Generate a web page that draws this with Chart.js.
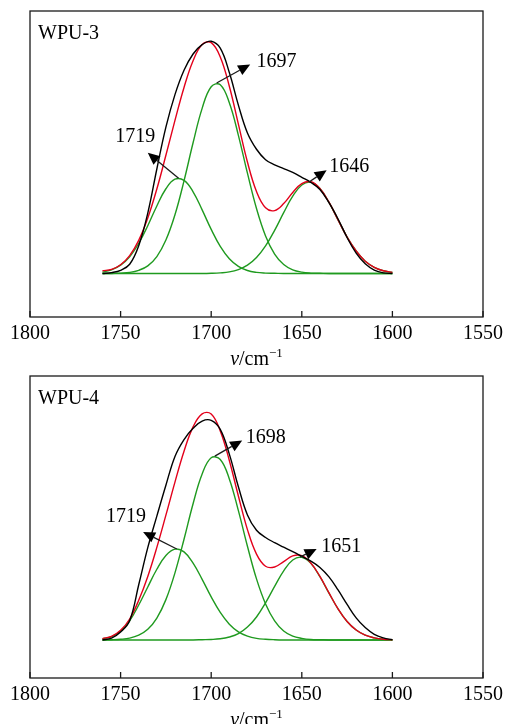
<!DOCTYPE html>
<html>
<head>
<meta charset="utf-8">
<script src="https://cdn.jsdelivr.net/npm/chart.js@4.4.1/dist/chart.umd.min.js"></script>
<style>
  html, body { margin: 0; padding: 0; background: #fff; }
  #wrap { position: relative; width: 508px; height: 724px; overflow: hidden; }
  #wrap canvas { position: absolute; left: 0; }
  #c3 { top: 0; }
  #c4 { top: 362px; }
</style>
</head>
<body>
<div id="wrap">
  <canvas id="c3" width="508" height="372"></canvas>
  <canvas id="c4" width="508" height="362"></canvas>
</div>
<script>
// wavenumber sampling (cm-1), shared by both panels
const wavenumbers = [1760, 1755, 1750, 1745, 1740, 1735, 1730, 1725, 1720, 1715, 1710,
  1705, 1700, 1695, 1690, 1685, 1680, 1675, 1670, 1665, 1660, 1655, 1650, 1645, 1640,
  1635, 1630, 1625, 1620, 1615, 1610, 1605, 1600];
const xTicks = [1800, 1750, 1700, 1650, 1600, 1550];

// WPU-3
const wpu3Measured = [0, 0.004, 0.014, 0.04, 0.12, 0.26, 0.45, 0.63, 0.77, 0.875, 0.945,
  0.985, 1.0, 0.97, 0.865, 0.725, 0.605, 0.535, 0.49, 0.468, 0.452, 0.435, 0.414, 0.392, 0.362,
  0.305, 0.235, 0.155, 0.088, 0.042, 0.015, 0.003, 0];
const wpu3Fitted = [0.012, 0.018, 0.038, 0.077, 0.143, 0.239, 0.364, 0.509, 0.659, 0.801, 0.916,
  0.986, 0.994, 0.932, 0.806, 0.643, 0.480, 0.353, 0.283, 0.271, 0.301, 0.349, 0.387, 0.395, 0.366,
  0.307, 0.231, 0.157, 0.097, 0.053, 0.027, 0.012, 0.005];
const wpu3Peak1719 = [0.006, 0.016, 0.036, 0.072, 0.130, 0.206, 0.291, 0.365, 0.406, 0.401, 0.352,
  0.274, 0.190, 0.117, 0.064, 0.031, 0.013, 0.005, 0.002, 0.001, 0, 0, 0, 0, 0,
  0, 0, 0, 0, 0, 0, 0, 0];
const wpu3Peak1697 = [0, 0, 0.002, 0.005, 0.014, 0.033, 0.073, 0.144, 0.253, 0.399, 0.563,
  0.711, 0.804, 0.813, 0.735, 0.595, 0.432, 0.280, 0.162, 0.084, 0.039, 0.016, 0.006, 0.002, 0.001,
  0, 0, 0, 0, 0, 0, 0, 0];
const wpu3Peak1646 = [0, 0, 0, 0, 0, 0, 0, 0, 0, 0, 0,
  0, 0.001, 0.003, 0.007, 0.017, 0.036, 0.069, 0.119, 0.186, 0.262, 0.333, 0.381, 0.393, 0.366,
  0.306, 0.231, 0.157, 0.097, 0.053, 0.027, 0.012, 0.005];

// WPU-4
const wpu4Measured = [0, 0.008, 0.035, 0.085, 0.245, 0.41, 0.55, 0.687, 0.815, 0.89, 0.94,
  0.972, 0.975, 0.935, 0.825, 0.68, 0.555, 0.487, 0.455, 0.432, 0.412, 0.392, 0.371, 0.35, 0.322,
  0.28, 0.222, 0.158, 0.098, 0.055, 0.025, 0.009, 0.001];
const wpu4Fitted = [0.006, 0.016, 0.043, 0.093, 0.176, 0.282, 0.411, 0.554, 0.701, 0.838, 0.946,
  1.004, 1.003, 0.928, 0.797, 0.639, 0.490, 0.381, 0.327, 0.324, 0.348, 0.373, 0.374, 0.342, 0.282,
  0.209, 0.138, 0.082, 0.044, 0.021, 0.009, 0.003, 0.001];
const wpu4Peak1719 = [0.005, 0.015, 0.040, 0.085, 0.155, 0.235, 0.314, 0.375, 0.403, 0.391, 0.341,
  0.269, 0.191, 0.122, 0.070, 0.036, 0.017, 0.007, 0.003, 0.001, 0, 0, 0, 0, 0,
  0, 0, 0, 0, 0, 0, 0, 0];
const wpu4Peak1698 = [0, 0.001, 0.003, 0.008, 0.021, 0.047, 0.097, 0.179, 0.298, 0.447, 0.605,
  0.737, 0.809, 0.801, 0.715, 0.574, 0.416, 0.271, 0.160, 0.085, 0.040, 0.017, 0.007, 0.002, 0.001,
  0, 0, 0, 0, 0, 0, 0, 0];
const wpu4Peak1651 = [0, 0, 0, 0, 0, 0, 0, 0, 0, 0, 0,
  0.001, 0.002, 0.005, 0.013, 0.028, 0.057, 0.102, 0.165, 0.238, 0.307, 0.355, 0.367, 0.340, 0.281,
  0.208, 0.138, 0.082, 0.044, 0.021, 0.009, 0.003, 0.001];

// peak labels: arrow from peak top to tip, text at label (data units)
const wpu3Notes = [
  { text: '1719', from: [1718, 0.41], tip: [1735, 0.52], label: [1753, 0.59] },
  { text: '1697', from: [1697, 0.82], tip: [1678.5, 0.90], label: [1675, 0.91] },
  { text: '1646', from: [1646, 0.394], tip: [1636.3, 0.445], label: [1634.8, 0.458] }
];
const wpu4Notes = [
  { text: '1719', from: [1719, 0.404], tip: [1737.6, 0.479], label: [1758, 0.545] },
  { text: '1698', from: [1698, 0.816], tip: [1682.9, 0.886], label: [1681, 0.90] },
  { text: '1651', from: [1651, 0.368], tip: [1641.8, 0.404], label: [1639.2, 0.416] }
];

const SERIF = '"Liberation Serif", "Times New Roman", serif';
const BLACK = '#000000', RED = '#e3001b', GREEN = '#1f9a1f';

function pts(values) {
  return wavenumbers.map((w, i) => ({ x: w, y: values[i] }));
}

function drawArrow(ctx, x0, y0, x1, y1) {
  const ang = Math.atan2(y1 - y0, x1 - x0);
  const len = 12, half = 5.5;
  const bx = x1 - len * Math.cos(ang), by = y1 - len * Math.sin(ang);
  ctx.beginPath();
  ctx.moveTo(x0, y0);
  ctx.lineTo(bx, by);
  ctx.stroke();
  ctx.beginPath();
  ctx.moveTo(x1, y1);
  ctx.lineTo(bx + half * Math.sin(ang), by - half * Math.cos(ang));
  ctx.lineTo(bx - half * Math.sin(ang), by + half * Math.cos(ang));
  ctx.closePath();
  ctx.fill();
}

const panelDecor = {
  id: 'panelDecor',
  afterDatasetsDraw(chart, args, opts) {
    const { ctx, chartArea: a, scales: { x, y } } = chart;
    ctx.save();
    ctx.strokeStyle = '#1a1a1a';
    ctx.fillStyle = '#000';
    ctx.lineWidth = 1.3;
    ctx.strokeRect(a.left, a.top, a.right - a.left, a.bottom - a.top);

    // ticks point inward
    x.ticks.forEach(t => {
      const px = x.getPixelForValue(t.value);
      ctx.beginPath();
      ctx.moveTo(px, a.bottom);
      ctx.lineTo(px, a.bottom - 6);
      ctx.stroke();
    });

    // axis title: v/cm^-1
    const parts = [['ν', 'italic 20px ' + SERIF, 0], ['/cm', '20px ' + SERIF, 0], ['−1', '13px ' + SERIF, -8]];
    let w = 0;
    parts.forEach(p => { ctx.font = p[1]; w += ctx.measureText(p[0]).width; });
    let cx = (a.left + a.right) / 2 - w / 2;
    const base = a.bottom + 48;
    ctx.textBaseline = 'alphabetic';
    ctx.textAlign = 'left';
    parts.forEach(p => {
      ctx.font = p[1];
      ctx.fillText(p[0], cx, base + p[2]);
      cx += ctx.measureText(p[0]).width;
    });

    // panel name
    ctx.font = '20px ' + SERIF;
    ctx.fillText(opts.label, a.left + 8, a.top + 28);

    // peak notes
    ctx.lineWidth = 1.3;
    opts.notes.forEach(n => {
      drawArrow(ctx,
        x.getPixelForValue(n.from[0]), y.getPixelForValue(n.from[1]),
        x.getPixelForValue(n.tip[0]), y.getPixelForValue(n.tip[1]));
      ctx.textBaseline = 'middle';
      ctx.fillText(n.text, x.getPixelForValue(n.label[0]), y.getPixelForValue(n.label[1]));
    });
    ctx.restore();
  }
};

function makePanel(id, series, label, notes, yMin, yMax, pad) {
  const line = (values, color, order) => ({
    data: pts(values),
    borderColor: color,
    borderWidth: 1.4,
    pointRadius: 0,
    fill: false,
    tension: 0.4,
    order: order
  });
  new Chart(document.getElementById(id), {
    type: 'line',
    data: {
      datasets: [
        line(series[0], BLACK, 0),
        line(series[1], RED, 1),
        line(series[2], GREEN, 2),
        line(series[3], GREEN, 2),
        line(series[4], GREEN, 2)
      ]
    },
    options: {
      responsive: false,
      animation: false,
      layout: { padding: pad },
      plugins: {
        legend: { display: false },
        tooltip: { enabled: false },
        panelDecor: { label: label, notes: notes }
      },
      scales: {
        x: {
          type: 'linear',
          reverse: true,
          min: 1550,
          max: 1800,
          afterBuildTicks: s => { s.ticks = xTicks.map(v => ({ value: v })); },
          grid: { display: false, drawTicks: false },
          border: { display: false },
          ticks: {
            color: '#000',
            padding: 5,
            maxRotation: 0,
            callback: v => String(v),
            font: { family: SERIF, size: 20 }
          }
        },
        y: {
          display: false,
          min: yMin,
          max: yMax
        }
      }
    },
    plugins: [panelDecor]
  });
}

makePanel('c3', [wpu3Measured, wpu3Fitted, wpu3Peak1719, wpu3Peak1697, wpu3Peak1646],
  'WPU-3', wpu3Notes, -0.187, 1.13, { left: 30, right: 24, top: 11, bottom: 21 });
makePanel('c4', [wpu4Measured, wpu4Fitted, wpu4Peak1719, wpu4Peak1698, wpu4Peak1651],
  'WPU-4', wpu4Notes, -0.169, 1.172, { left: 30, right: 24, top: 14, bottom: 12 });
</script>
</body>
</html>
